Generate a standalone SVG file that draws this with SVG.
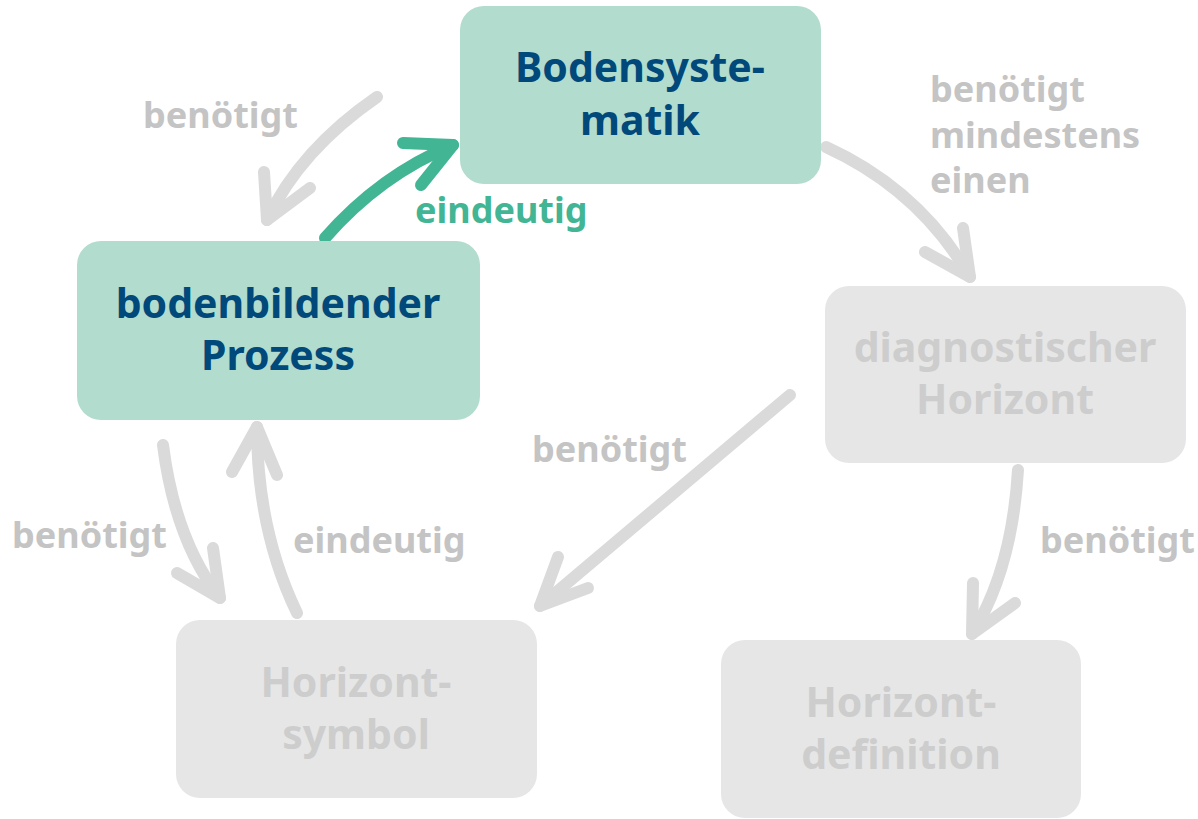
<svg xmlns="http://www.w3.org/2000/svg" width="1198" height="819" viewBox="0 0 1198 819">
<style>
.node-g rect{fill:#b2dccd}
.node-x rect{fill:#e6e6e6}
.nt{font-family:"Noto Sans","Open Sans",sans-serif;font-weight:bold;font-size:41px;text-anchor:middle}
.node-g .nt{fill:#00497a}
.node-x .nt{fill:#cdcdcd}
.lbl{font-family:"Noto Sans","Open Sans",sans-serif;font-weight:bold;font-size:36px;fill:#c4c4c4}
.lg{fill:#42b594}
.c{fill:none;stroke:#dadada;stroke-width:12;stroke-linecap:round;stroke-linejoin:round}
.cg{stroke:#42b594}
</style>
<g id="connectors">
<path class="c" d="M377,97 Q300,150 267,220"/>
<polyline class="c" points="264,172 267,220 310,188"/>
<path class="c cg" d="M325,238 Q380,175 453,145"/>
<polyline class="c cg" points="403,143 453,145 421,185"/>
<path class="c" d="M826,147 Q920,190 970,277"/>
<polyline class="c" points="963,228 970,277 925,252"/>
<path class="c" d="M790,395 L540,606"/>
<polyline class="c" points="558,557 540,606 588,588"/>
<path class="c" d="M1018,470 Q1012,570 972,634"/>
<polyline class="c" points="973,583 972,634 1015,603"/>
<path class="c" d="M163,445 Q175,540 220,598"/>
<polyline class="c" points="213,548 220,598 177,573"/>
<path class="c" d="M297,613 Q257,530 257,427"/>
<polyline class="c" points="232,472 257,427 277,475"/>
</g>
<g id="n-bodensystematik" class="node-g"><rect x="460" y="6" width="361" height="178" rx="24"/><text class="nt" x="640" y="82">Bodensyste-</text><text class="nt" x="640" y="135">matik</text></g>
<g id="n-bodenbildender" class="node-g"><rect x="77" y="241" width="403" height="179" rx="24"/><text class="nt" x="278" y="318">bodenbildender</text><text class="nt" x="278" y="370">Prozess</text></g>
<g id="n-diagnostischer" class="node-x"><rect x="825" y="286" width="361" height="177" rx="24"/><text class="nt" x="1005" y="362">diagnostischer</text><text class="nt" x="1005" y="414">Horizont</text></g>
<g id="n-horizontsymbol" class="node-x"><rect x="176" y="620" width="361" height="178" rx="24"/><text class="nt" x="356" y="697">Horizont-</text><text class="nt" x="356" y="749">symbol</text></g>
<g id="n-horizontdefinition" class="node-x"><rect x="721" y="640" width="360" height="178" rx="24"/><text class="nt" x="901" y="717">Horizont-</text><text class="nt" x="901" y="769">definition</text></g>
<g id="labels">
<text class="lbl" x="143" y="128">benötigt</text>
<text class="lbl" x="930" y="102">benötigt</text>
<text class="lbl" x="930" y="148">mindestens</text>
<text class="lbl" x="930" y="193">einen</text>
<text class="lbl lg" x="415" y="223">eindeutig</text>
<text class="lbl" x="532" y="462">benötigt</text>
<text class="lbl" x="12" y="548">benötigt</text>
<text class="lbl" x="293" y="553">eindeutig</text>
<text class="lbl" x="1040" y="553">benötigt</text>
</g>
</svg>
